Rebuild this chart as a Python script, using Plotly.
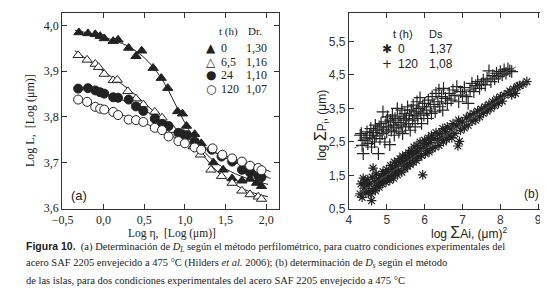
import plotly.graph_objects as go

# ---------------- Panel (a): perfilometric method ----------------
a0_x = [-0.30, -0.19, -0.10, -0.04, 0.01, 0.12, 0.18, 0.31, 0.40, 0.47, 0.61, 0.71, 0.79, 0.91, 0.97, 1.02, 1.12, 1.20, 1.35, 1.47, 1.58, 1.70, 1.80, 1.88, 1.94]
a0_y = [3.985, 3.983, 3.981, 3.977, 3.972, 3.966, 3.969, 3.951, 3.933, 3.945, 3.907, 3.885, 3.863, 3.812, 3.807, 3.780, 3.762, 3.742, 3.700, 3.684, 3.665, 3.660, 3.664, 3.655, 3.648]

a65_x = [-0.31, -0.20, -0.10, -0.06, 0.01, 0.12, 0.17, 0.30, 0.40, 0.49, 0.63, 0.72, 0.86, 0.96, 1.10, 1.19, 1.32, 1.45, 1.58, 1.70, 1.80, 1.90, 1.94]
a65_y = [3.935, 3.925, 3.916, 3.909, 3.894, 3.880, 3.881, 3.856, 3.840, 3.827, 3.811, 3.798, 3.771, 3.753, 3.735, 3.717, 3.684, 3.670, 3.655, 3.638, 3.630, 3.625, 3.620]

a24_x = [-0.31, -0.19, -0.10, -0.04, 0.01, 0.12, 0.18, 0.31, 0.40, 0.49, 0.63, 0.72, 0.80, 0.92, 0.97, 1.03, 1.12, 1.19, 1.33, 1.45, 1.58, 1.70, 1.80, 1.90, 1.94]
a24_y = [3.862, 3.863, 3.858, 3.854, 3.851, 3.843, 3.842, 3.838, 3.823, 3.813, 3.796, 3.785, 3.780, 3.765, 3.762, 3.760, 3.746, 3.735, 3.728, 3.713, 3.702, 3.684, 3.678, 3.671, 3.668]

a120_x = [-0.31, -0.20, -0.10, -0.04, 0.01, 0.12, 0.18, 0.31, 0.40, 0.49, 0.63, 0.72, 0.80, 0.92, 1.00, 1.12, 1.20, 1.34, 1.46, 1.58, 1.70, 1.80, 1.90, 1.94]
a120_y = [3.838, 3.833, 3.822, 3.818, 3.816, 3.811, 3.804, 3.794, 3.793, 3.789, 3.776, 3.771, 3.757, 3.747, 3.742, 3.733, 3.728, 3.731, 3.717, 3.709, 3.702, 3.693, 3.688, 3.683]

# fitted curves
fit0_x = [-0.35, 0.0, 0.3, 0.5, 0.7, 0.9, 1.0, 1.1, 1.3, 1.5, 1.75, 2.02]
fit0_y = [3.990, 3.975, 3.955, 3.930, 3.888, 3.822, 3.787, 3.757, 3.712, 3.686, 3.666, 3.652]
fit65_x = [-0.35, 0.0, 0.3, 0.6, 0.9, 1.2, 1.4, 1.6, 1.8, 2.02]
fit65_y = [3.945, 3.900, 3.862, 3.815, 3.770, 3.720, 3.680, 3.653, 3.636, 3.625]
fit24_x = [-0.35, 0.0, 0.5, 0.9, 1.2, 1.5, 1.8, 2.05]
fit24_y = [3.866, 3.852, 3.815, 3.768, 3.738, 3.710, 3.685, 3.665]
fit120_x = [-0.35, 0.0, 0.5, 1.0, 1.4, 1.7, 2.05]
fit120_y = [3.842, 3.818, 3.787, 3.745, 3.720, 3.702, 3.680]

legA_t = ["0", "6,5", "24", "120"]
legA_D = ["1,30", "1,16", "1,10", "1,07"]
legA_sym = ["\u25B2", "\u25B3", "\u25CF", "\u25CB"]

# ---------------- Panel (b): island method ----------------
b0_x = [4.30, 4.32, 4.35, 4.38, 4.40, 4.42, 4.45, 4.48, 4.50, 4.52, 4.55, 4.58, 4.60, 4.62, 4.64, 4.66, 4.68, 4.70, 4.72, 4.75,
        4.78, 4.80, 4.82, 4.85, 4.88, 4.90, 4.92, 4.95, 4.98, 5.00, 5.02, 5.05, 5.08, 5.10, 5.12, 5.15, 5.18, 5.20, 5.22, 5.25,
        5.28, 5.30, 5.32, 5.35, 5.38, 5.40, 5.42, 5.45, 5.48, 5.50, 5.52, 5.55, 5.58, 5.60, 5.62, 5.65, 5.68, 5.70, 5.72, 5.75,
        5.78, 5.80, 5.82, 5.85, 5.88, 5.90, 5.92, 5.95, 5.98, 6.00, 6.02, 6.05, 6.08, 6.10, 6.12, 6.15, 6.18, 6.20, 6.25, 6.28,
        6.30, 6.35, 6.38, 6.40, 6.45, 6.48, 6.50, 6.55, 6.58, 6.60, 6.65, 6.70, 6.72, 6.75, 6.80, 6.85, 6.88, 6.90, 6.92, 6.95,
        7.00, 7.05, 7.10, 7.15, 7.20, 7.25, 7.30, 7.35, 7.40, 7.45, 7.50, 7.55, 7.60, 7.65, 7.70, 7.75, 7.80, 7.85, 7.90, 7.95,
        8.00, 8.05, 8.10, 8.20, 8.25, 8.30, 8.35, 8.40, 8.45, 8.50, 8.60, 8.70]
b0_y = [0.95, 1.25, 0.85, 1.42, 1.12, 1.30, 0.98, 1.22, 1.38, 1.02, 1.25, 0.95, 0.75, 1.45, 1.72, 1.10, 1.32, 1.05, 1.55, 1.20,
        1.40, 1.15, 1.28, 1.50, 1.25, 1.62, 1.35, 1.55, 1.30, 1.68, 1.42, 1.60, 1.35, 1.80, 1.50, 1.70, 1.42, 1.90, 1.58, 1.78,
        1.52, 1.92, 1.65, 2.00, 1.82, 1.60, 2.08, 1.90, 1.70, 2.10, 1.95, 1.78, 2.18, 2.00, 1.82, 2.25, 2.08, 1.90, 2.35, 2.15,
        1.95, 2.40, 2.22, 2.05, 2.50, 2.30, 2.10, 1.52, 2.38, 2.55, 2.15, 2.45, 2.25, 2.62, 2.20, 2.48, 2.70, 2.30, 2.60, 2.35,
        2.78, 2.55, 2.40, 2.75, 2.62, 2.90, 2.50, 2.80, 2.58, 2.95, 2.70, 2.88, 2.62, 3.05, 2.75, 2.98, 2.38, 3.15, 2.52, 2.85,
        3.10, 2.92, 3.22, 3.00, 3.30, 3.12, 3.35, 3.15, 3.42, 3.25, 3.48, 3.35, 3.55, 3.42, 3.62, 3.50, 3.70, 3.58, 3.78, 3.65,
        3.85, 3.72, 3.90, 3.95, 4.02, 3.90, 4.08, 3.95, 4.15, 4.18, 4.22, 4.30]

b120_x = [4.30, 4.33, 4.35, 4.38, 4.40, 4.45, 4.48, 4.50, 4.55, 4.58, 4.60, 4.62, 4.65, 4.68, 4.70, 4.72, 4.75, 4.78, 4.80, 4.82,
          4.85, 4.88, 4.90, 4.92, 4.95, 4.98, 5.00, 5.02, 5.05, 5.08, 5.10, 5.12, 5.15, 5.18, 5.20, 5.22, 5.25, 5.28, 5.30, 5.32,
          5.35, 5.38, 5.40, 5.42, 5.45, 5.48, 5.50, 5.52, 5.55, 5.58, 5.60, 5.62, 5.65, 5.68, 5.70, 5.72, 5.75, 5.78, 5.80, 5.82,
          5.85, 5.88, 5.90, 5.92, 5.95, 5.98, 6.00, 6.05, 6.08, 6.10, 6.15, 6.18, 6.20, 6.25, 6.28, 6.30, 6.35, 6.38, 6.40, 6.45,
          6.48, 6.50, 6.55, 6.60, 6.65, 6.70, 6.75, 6.80, 6.85, 6.90, 6.95, 7.00, 7.05, 7.10, 7.15, 7.20, 7.25, 7.30, 7.35, 7.40,
          7.45, 7.50, 7.55, 7.60, 7.65, 7.70, 7.75, 7.80, 7.85, 7.90, 7.95, 8.00, 8.05, 8.10, 8.15, 8.20, 8.25, 8.30]
b120_y = [2.70, 2.75, 2.40, 2.15, 2.55, 2.62, 2.80, 2.45, 2.70, 2.90, 2.35, 2.60, 2.78, 2.50, 3.00, 2.68, 2.85, 2.15, 2.95, 2.60,
          3.05, 2.75, 3.40, 2.88, 2.50, 3.10, 2.80, 3.25, 2.95, 2.42, 3.15, 2.85, 3.30, 3.00, 2.70, 3.20, 2.92, 3.50, 3.08, 2.80,
          3.25, 3.00, 3.45, 2.75, 3.15, 3.35, 2.95, 3.20, 3.55, 3.05, 3.30, 2.85, 3.45, 3.15, 3.60, 3.28, 2.95, 3.40, 3.70, 3.20,
          3.50, 3.82, 3.35, 3.05, 3.55, 3.30, 3.65, 3.45, 3.20, 3.75, 3.55, 3.35, 3.85, 3.62, 3.40, 3.95, 3.70, 4.05, 3.55, 3.85,
          3.45, 4.10, 3.80, 3.65, 3.95, 3.75, 4.05, 3.88, 4.15, 3.70, 4.00, 3.90, 4.12, 3.85, 3.65, 4.05, 4.25, 4.00, 4.18, 4.30,
          4.10, 4.22, 4.35, 4.20, 4.40, 4.62, 4.30, 4.48, 4.38, 4.55, 4.45, 4.60, 4.50, 4.65, 4.55, 4.68, 4.62, 4.60]

fitb0_x = [4.15, 8.78]
fitb0_y = [0.87, 4.38]
fitb120_x = [4.15, 8.41]
fitb120_y = [2.32, 4.74]

legB_t = ["0", "120"]
legB_D = ["1,37", "1,08"]
legB_sym = ["\u2731", "+"]

W, H = 548, 291
SERIF = "Liberation Serif"
SANS = "Liberation Sans"
INK = "#222222"


def X(p):
    return p / W


def Y(p):
    return 1 - p / H


fig = go.Figure()

# fitted lines panel (a)
for fx, fy in [(fit0_x, fit0_y), (fit65_x, fit65_y), (fit24_x, fit24_y), (fit120_x, fit120_y)]:
    fig.add_trace(go.Scatter(x=fx, y=fy, mode="lines", line=dict(color=INK, width=1, shape="spline", smoothing=1.0),
                             showlegend=False, hoverinfo="skip", xaxis="x", yaxis="y"))

series_a = [
    (a0_x, a0_y, "triangle-up", INK, INK),
    (a65_x, a65_y, "triangle-up", "white", INK),
    (a24_x, a24_y, "circle", INK, INK),
    (a120_x, a120_y, "circle", "white", INK),
]
for sx, sy, sym, fill, edge in series_a:
    fig.add_trace(go.Scatter(x=sx, y=sy, mode="markers",
                             marker=dict(symbol=sym, size=9, color=fill, line=dict(color=edge, width=1)),
                             showlegend=False, xaxis="x", yaxis="y"))

# panel (b)
fig.add_trace(go.Scatter(x=b0_x, y=b0_y, mode="markers",
                         marker=dict(symbol="asterisk-open", size=8, color=INK, line=dict(color=INK, width=1.2)),
                         showlegend=False, xaxis="x2", yaxis="y2"))
fig.add_trace(go.Scatter(x=b120_x, y=b120_y, mode="markers",
                         marker=dict(symbol="cross-thin-open", size=9, color=INK, line=dict(color=INK, width=1.2)),
                         showlegend=False, xaxis="x2", yaxis="y2"))
for fx, fy in [(fitb0_x, fitb0_y), (fitb120_x, fitb120_y)]:
    fig.add_trace(go.Scatter(x=fx, y=fy, mode="lines", line=dict(color="#555555", width=0.8),
                             showlegend=False, hoverinfo="skip", xaxis="x2", yaxis="y2"))

axis_common = dict(showline=True, linecolor="#333333", linewidth=1, mirror="ticks", ticks="inside",
                   ticklen=5, tickcolor="#333333", showgrid=False, zeroline=False)

fig.update_layout(
    width=W, height=H, margin=dict(l=0, r=0, t=0, b=0),
    paper_bgcolor="white", plot_bgcolor="white",
    separators=", ",
    showlegend=False,
    xaxis=dict(domain=[X(45), X(266)], range=[-0.506, 2.157], anchor="y",
               tickvals=[-0.5, 0, 0.5, 1.0, 1.5, 2.0], tickformat=".1f",
               tickfont=dict(family=SERIF, size=12, color=INK), **axis_common),
    yaxis=dict(domain=[Y(206), Y(5)], range=[3.598, 4.028], anchor="x",
               tickvals=[3.6, 3.7, 3.8, 3.9, 4.0], tickformat=".1f",
               tickfont=dict(family=SERIF, size=12, color=INK), **axis_common),
    xaxis2=dict(domain=[X(337), X(543)], range=[4, 9.34], anchor="y2",
                tickvals=[4, 5, 6, 7, 8, 9], tickformat="d",
                tickfont=dict(family=SANS, size=12, color="#333333"), **axis_common),
    yaxis2=dict(domain=[Y(206), Y(5)], range=[0.5, 6.35], anchor="x2",
                tickvals=[0.5, 1.5, 2.5, 3.5, 4.5, 5.5], tickformat=".1f",
                tickfont=dict(family=SANS, size=12, color="#333333"), **axis_common),
)

ann = []


def add_text(text, x, y, size, family, xanchor="left", yanchor="middle", angle=0, color=INK):
    ann.append(dict(text=text, x=X(x), y=Y(y), xref="paper", yref="paper", showarrow=False,
                    xanchor=xanchor, yanchor=yanchor, textangle=angle,
                    font=dict(family=family, size=size, color=color)))


# axis titles
add_text("Log \u03b7,  [Log (\u03bcm)]", 157, 231, 11.5, SERIF, xanchor="center")
add_text("Log L,  [Log (\u03bcm)]", 12, 115, 12, SERIF, xanchor="center", angle=-90)
add_text("log <span style='font-size:16px'>\u03a3</span>Ai, (\u03bcm)<sup>2</sup>", 460, 230, 12, SANS, xanchor="center")
add_text("log <span style='font-size:16px'>\u03a3</span>P<sub>i</sub>, (\u03bcm)", 309, 120, 12, SANS, xanchor="center", angle=-90)

# panel labels
add_text("(a)", 52, 192, 13, SANS)
add_text("(b)", 533, 191, 12, SANS, xanchor="right")

# legend (a)
add_text("t (h)", 203, 24, 11, SERIF)
add_text("Dr.", 232, 24, 11, SERIF)
for i in range(len(legA_t)):
    yy = 41 + 14 * i
    add_text(legA_sym[i], 197, yy, 12, "DejaVu Sans", xanchor="center")
    add_text(legA_t[i], 205, yy, 12, SERIF)
    add_text(legA_D[i], 230, yy, 12, SERIF)

# legend (b)
add_text("t (h)", 380, 27, 11, SANS)
add_text("Ds", 417, 27, 11, SANS)
for i in range(len(legB_t)):
    yy = 42 + 15 * i
    add_text(legB_sym[i], 376, yy, 12, "DejaVu Sans", xanchor="center")
    add_text(legB_t[i], 385, yy, 12, SANS)
    add_text(legB_D[i], 417, yy, 12, SANS)

# caption
cap1 = ("<span style='font-family:Liberation Sans'><b>Figura 10.</b></span>  (a) Determinación de "
        "<i>D</i><sub><i>L</i></sub> según el método perfilométrico, para cuatro condiciones experimentales del")
cap2 = ("acero SAF 2205 envejecido a 475 °C (Hilders <i>et al.</i> 2006); (b) determinación de "
        "<i>D</i><sub><i>s</i></sub> según el método")
cap3 = "de las islas, para dos condiciones experimentales del acero SAF 2205 envejecido a 475 °C"
add_text(cap1, 6, 245, 10.5, SERIF)
add_text(cap2, 6, 262, 10.5, SERIF)
add_text(cap3, 6, 279, 10.5, SERIF)

fig.update_layout(annotations=ann)
fig.write_html("out.html")
